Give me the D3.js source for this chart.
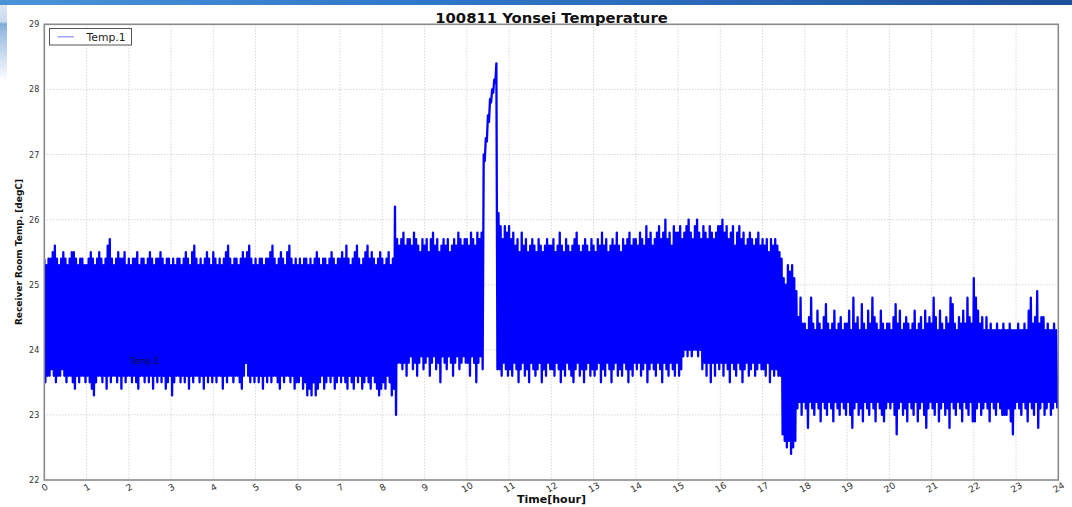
<!DOCTYPE html>
<html>
<head>
<meta charset="utf-8">
<script src="https://cdn.jsdelivr.net/npm/d3@7"></script>
<style>
  html, body { margin: 0; padding: 0; background: #fff; }
  svg { display: block; font-family: "DejaVu Sans", sans-serif; }
</style>
</head>
<body>
<svg id="chart" width="1072" height="507"></svg>
<script>
// Hours between successive envelope readings of the temperature log
const sampleStep = 0.05;

// Upper envelope of Temp.1 [degC], one row per hour (20 readings each)
const tempHigh = [
  25.4,25.3,25.4,25.4,25.5, 25.6,25.4,25.3,25.4,25.5, 25.4,25.3,25.4,25.5,25.5, 25.4,25.3,25.4,25.4,25.3, // 0 h
  25.3,25.4,25.5,25.4,25.3, 25.4,25.5,25.4,25.3,25.4, 25.6,25.7,25.4,25.3,25.4, 25.5,25.4,25.4,25.5,25.3, // 1 h
  25.4,25.3,25.4,25.4,25.5, 25.3,25.4,25.4,25.3,25.4, 25.5,25.4,25.3,25.4,25.4, 25.5,25.4,25.3,25.4,25.4, // 2 h
  25.3,25.4,25.3,25.4,25.4, 25.3,25.4,25.5,25.4,25.3, 25.5,25.6,25.4,25.3,25.4, 25.3,25.4,25.5,25.4,25.3, // 3 h
  25.5,25.4,25.3,25.4,25.3, 25.4,25.5,25.6,25.4,25.3, 25.4,25.4,25.3,25.4,25.5, 25.4,25.5,25.6,25.4,25.3, // 4 h
  25.4,25.3,25.4,25.4,25.3, 25.4,25.4,25.5,25.6,25.4, 25.3,25.4,25.5,25.4,25.3, 25.5,25.6,25.4,25.3,25.4, // 5 h
  25.3,25.4,25.3,25.4,25.4, 25.3,25.4,25.3,25.4,25.5, 25.4,25.3,25.4,25.4,25.3, 25.4,25.5,25.4,25.3,25.4, // 6 h
  25.4,25.5,25.4,25.6,25.4, 25.3,25.4,25.5,25.6,25.4, 25.3,25.4,25.5,25.6,25.4, 25.5,25.4,25.3,25.4,25.5, // 7 h
  25.4,25.3,25.4,25.5,25.3, 25.4,26.2,25.7,25.6,25.7, 25.8,25.6,25.7,25.7,25.6, 25.8,25.7,25.6,25.5,25.7, // 8 h
  25.6,25.7,25.5,25.7,25.8, 25.6,25.7,25.5,25.6,25.7, 25.6,25.7,25.5,25.6,25.7, 25.6,25.8,25.7,25.6,25.7, // 9 h
  25.7,25.6,25.8,25.7,25.6, 25.8,25.7,25.8,27.0,27.25, 27.6,27.85,28.0,28.15,28.4, 26.1,25.9,25.7,25.9,25.8, // 10 h
  25.9,25.7,25.8,25.6,25.7, 25.5,25.8,25.6,25.7,25.5, 25.6,25.7,25.6,25.5,25.7, 25.6,25.5,25.6,25.7,25.6, // 11 h
  25.6,25.7,25.5,25.6,25.8, 25.6,25.5,25.7,25.6,25.5, 25.6,25.7,25.8,25.6,25.5, 25.6,25.7,25.6,25.5,25.7, // 12 h
  25.6,25.5,25.7,25.6,25.8, 25.6,25.7,25.5,25.6,25.7, 25.6,25.8,25.6,25.5,25.7, 25.6,25.7,25.8,25.6,25.7, // 13 h
  25.7,25.6,25.8,25.7,25.6, 25.9,25.7,25.8,25.6,25.7, 25.8,25.9,25.7,25.8,26.0, 25.7,25.8,25.6,25.9,25.8, // 14 h
  25.8,25.9,25.7,25.8,25.9, 26.0,25.8,25.7,25.9,26.0, 25.8,25.7,25.9,25.8,25.7, 25.9,25.8,25.7,25.8,25.9, // 15 h
  25.9,26.0,25.8,25.9,25.7, 25.8,25.9,25.6,25.8,25.9, 25.7,25.8,25.6,25.7,25.8, 25.7,25.6,25.7,25.8,25.6, // 16 h
  25.7,25.6,25.7,25.5,25.7, 25.6,25.7,25.6,25.5,25.4, 25.1,25.0,25.3,25.2,25.3, 25.1,24.9,24.5,24.8,24.4, // 17 h
  24.4,24.3,24.5,24.8,24.4, 24.3,24.6,24.4,24.3,24.5, 24.7,24.4,24.3,24.4,24.6, 24.3,24.4,24.5,24.3,24.4, // 18 h
  24.4,24.6,24.3,24.8,24.4, 24.5,24.3,24.7,24.4,24.3, 24.6,24.4,24.8,24.5,24.4, 24.3,24.6,24.4,24.3,24.4, // 19 h
  24.4,24.3,24.5,24.7,24.4, 24.6,24.3,24.4,24.5,24.4, 24.3,24.4,24.6,24.3,24.4, 24.5,24.3,24.6,24.4,24.5, // 20 h
  24.4,24.8,24.5,24.3,24.6, 24.4,24.3,24.5,24.4,24.8, 24.7,24.4,24.3,24.5,24.4, 24.6,24.4,24.8,24.5,24.4, // 21 h
  25.1,24.8,24.6,24.4,24.5, 24.3,24.5,24.3,24.4,24.3, 24.3,24.4,24.3,24.3,24.4, 24.3,24.3,24.4,24.3,24.3, // 22 h
  24.3,24.4,24.3,24.3,24.4, 24.3,24.6,24.8,24.4,24.5, 24.9,24.4,24.5,24.5,24.3, 24.4,24.3,24.3,24.4,24.3  // 23 h
];

// Lower envelope of Temp.1 [degC], read half a step after each upper reading
const tempLow = [
  23.5,23.6,23.6,23.7,23.6, 23.5,23.6,23.6,23.7,23.6, 23.5,23.6,23.6,23.5,23.4, 23.6,23.5,23.6,23.6,23.5, // 0 h
  23.6,23.5,23.4,23.3,23.5, 23.6,23.6,23.5,23.6,23.4, 23.6,23.5,23.6,23.6,23.5, 23.6,23.4,23.6,23.5,23.6, // 1 h
  23.6,23.5,23.6,23.5,23.4, 23.6,23.6,23.5,23.6,23.5, 23.6,23.4,23.6,23.5,23.6, 23.5,23.6,23.4,23.5,23.6, // 2 h
  23.3,23.5,23.6,23.6,23.5, 23.6,23.5,23.6,23.4,23.6, 23.5,23.6,23.6,23.5,23.6, 23.4,23.6,23.5,23.6,23.5, // 3 h
  23.6,23.5,23.6,23.6,23.4, 23.6,23.5,23.6,23.6,23.5, 23.6,23.6,23.5,23.4,23.6, 23.8,23.6,23.5,23.6,23.5, // 4 h
  23.6,23.5,23.6,23.4,23.6, 23.5,23.6,23.5,23.6,23.6, 23.5,23.4,23.6,23.5,23.6, 23.6,23.5,23.6,23.4,23.5, // 5 h
  23.5,23.6,23.4,23.5,23.3, 23.4,23.3,23.5,23.3,23.4, 23.5,23.6,23.4,23.5,23.6, 23.5,23.6,23.4,23.5,23.6, // 6 h
  23.5,23.6,23.5,23.4,23.6, 23.5,23.4,23.6,23.5,23.6, 23.4,23.5,23.6,23.5,23.4, 23.6,23.5,23.4,23.3,23.4, // 7 h
  23.5,23.4,23.6,23.5,23.3, 23.4,23.0,23.8,23.8,23.7, 23.8,23.6,23.8,23.9,23.7, 23.8,23.6,23.8,23.9,23.7, // 8 h
  23.8,23.9,23.6,23.8,23.9, 23.7,23.8,23.5,23.9,23.8, 23.7,23.9,23.8,23.6,23.8, 23.9,23.7,23.8,23.9,23.8, // 9 h
  23.8,23.6,23.9,23.8,23.5, 23.8,23.9,23.7,26.9,27.2, 27.5,27.8,27.95,28.1,23.7, 23.7,23.6,23.8,23.7,23.6, // 10 h
  23.7,23.6,23.8,23.7,23.5, 23.7,23.8,23.6,23.7,23.5, 23.8,23.7,23.6,23.7,23.8, 23.5,23.7,23.6,23.8,23.7, // 11 h
  23.7,23.6,23.8,23.7,23.5, 23.7,23.6,23.8,23.7,23.6, 23.5,23.7,23.8,23.6,23.7, 23.5,23.7,23.8,23.6,23.7, // 12 h
  23.6,23.7,23.8,23.5,23.7, 23.6,23.8,23.7,23.5,23.7, 23.8,23.6,23.7,23.6,23.8, 23.7,23.5,23.7,23.6,23.8, // 13 h
  23.7,23.8,23.6,23.7,23.8, 23.5,23.7,23.8,23.7,23.6, 23.8,23.7,23.5,23.8,23.7, 23.6,23.8,23.7,23.6,23.8, // 14 h
  23.6,23.7,23.9,24.0,23.9, 24.0,23.9,24.0,24.0,23.9, 24.0,23.7,23.8,23.6,23.8, 23.5,23.8,23.6,23.8,23.7, // 15 h
  23.8,23.6,23.8,23.7,23.5, 23.8,23.7,23.6,23.8,23.7, 23.5,23.7,23.8,23.6,23.7, 23.8,23.6,23.7,23.8,23.7, // 16 h
  23.7,23.6,23.8,23.5,23.7, 23.6,23.7,23.6,23.6,22.7, 22.6,22.5,22.6,22.4,22.5, 22.6,23.1,23.2,23.0,23.2, // 17 h
  23.1,22.8,23.2,23.1,23.0, 23.2,23.1,22.9,23.2,23.1, 23.0,23.2,23.1,22.9,23.2, 23.1,23.0,23.2,23.1,23.0, // 18 h
  23.2,23.0,22.8,23.1,23.2, 23.0,23.1,22.9,23.2,23.1, 23.0,23.2,23.1,22.9,23.2, 23.1,23.0,22.9,23.1,23.2, // 19 h
  23.1,23.2,23.0,22.7,23.1, 23.2,23.0,23.1,22.9,23.2, 23.1,23.0,23.2,22.9,23.1, 23.2,23.0,22.8,23.1,23.2, // 20 h
  23.1,23.0,23.2,22.9,23.1, 23.2,23.0,23.1,22.8,23.2, 23.1,23.0,23.2,23.1,22.9, 23.2,23.1,23.0,23.2,22.9, // 21 h
  22.9,23.1,23.2,23.0,23.1, 23.2,23.1,22.9,23.2,23.1, 23.0,23.2,23.1,23.0,23.0, 23.0,23.1,22.9,22.7,23.1, // 22 h
  23.2,23.1,23.0,23.2,23.1, 22.9,23.2,23.1,23.0,23.2, 22.8,23.1,23.2,23.0,23.1, 23.2,23.0,23.1,23.2,23.1  // 23 h
];

const hourTicks = [0,1,2,3,4,5,6,7,8,9,10,11,12,13,14,15,16,17,18,19,20,21,22,23,24];
const tempTicks = [22,23,24,25,26,27,28,29];
const seriesName = "Temp.1";
const chartTitle = "100811 Yonsei Temperature";
const xLabel = "Time[hour]";
const yLabel = "Receiver Room Temp. [degC]";

const svg = d3.select("#chart");
const W = 1072, H = 507;
const plot = { left: 44.3, right: 1058.3, top: 24.3, bottom: 480 };

// Slide header band and left-edge decoration
const defs = svg.append("defs");
const hdr = defs.append("linearGradient").attr("id", "hdr").attr("x1", 0).attr("x2", 1).attr("y1", 0).attr("y2", 0);
hdr.append("stop").attr("offset", 0).attr("stop-color", "#4b93d8");
hdr.append("stop").attr("offset", 0.4).attr("stop-color", "#2f77c8");
hdr.append("stop").attr("offset", 0.7).attr("stop-color", "#2a66b4");
hdr.append("stop").attr("offset", 1).attr("stop-color", "#1d4f9a");
const side = defs.append("linearGradient").attr("id", "side").attr("x1", 0).attr("x2", 0).attr("y1", 0).attr("y2", 1);
side.append("stop").attr("offset", 0).attr("stop-color", "#dce7f3");
side.append("stop").attr("offset", 0.22).attr("stop-color", "#c9daee");
side.append("stop").attr("offset", 0.25).attr("stop-color", "#7fa9da");
side.append("stop").attr("offset", 0.36).attr("stop-color", "#9dbde3");
side.append("stop").attr("offset", 1).attr("stop-color", "#ffffff");

svg.append("rect").attr("x", 0).attr("y", 0).attr("width", W).attr("height", H).attr("fill", "#fff");
svg.append("rect").attr("x", 0).attr("y", 0).attr("width", W).attr("height", 5).attr("fill", "url(#hdr)");
svg.append("rect").attr("x", 0).attr("y", 5).attr("width", 7).attr("height", 76).attr("fill", "url(#side)");

const x = d3.scaleLinear().domain([0, 24]).range([plot.left, plot.right]);
const y = d3.scaleLinear().domain([22, 29]).range([plot.bottom, plot.top]);

// Dotted grid
const grid = svg.append("g").attr("stroke", "#b8b8b8").attr("stroke-width", 0.8).attr("stroke-dasharray", "1,2");
grid.selectAll("line.v").data(hourTicks.slice(1, -1)).join("line")
  .attr("x1", d => x(d)).attr("x2", d => x(d)).attr("y1", plot.top).attr("y2", plot.bottom);
grid.selectAll("line.h").data(tempTicks.slice(1, -1)).join("line")
  .attr("y1", d => y(d)).attr("y2", d => y(d)).attr("x1", plot.left).attr("x2", plot.right);

// Temperature trace: zigzag through the upper and lower envelope readings
const n = Math.min(tempHigh.length, tempLow.length);
const pts = [];
for (let i = 0; i < n; i++) {
  pts.push([i * sampleStep, tempHigh[i]]);
  pts.push([i * sampleStep + sampleStep / 2, tempLow[i]]);
}
svg.append("clipPath").attr("id", "clip").append("rect")
  .attr("x", plot.left).attr("y", plot.top).attr("width", plot.right - plot.left).attr("height", plot.bottom - plot.top);
svg.append("path")
  .datum(pts)
  .attr("clip-path", "url(#clip)")
  .attr("fill", "none")
  .attr("stroke", "#0000ff")
  .attr("stroke-width", 2.3)
  .attr("stroke-linejoin", "round")
  .attr("stroke-linecap", "butt")
  .attr("d", d3.line().x(d => x(d[0])).y(d => y(d[1])));

// Small in-plot series tag
svg.append("text").attr("x", x(2.03)).attr("y", y(23.78))
  .attr("font-size", 8).attr("fill", "#111").attr("opacity", 0.85).text(seriesName);

// Frame
svg.append("rect")
  .attr("x", plot.left).attr("y", plot.top)
  .attr("width", plot.right - plot.left).attr("height", plot.bottom - plot.top)
  .attr("fill", "none").attr("stroke", "#8a8a8a").attr("stroke-width", 1.6);

// Y axis (labels only, classic style)
const yAxis = d3.axisLeft(y).tickValues(tempTicks).tickSize(0).tickPadding(5).tickFormat(d3.format("d"));
const gy = svg.append("g").attr("transform", `translate(${plot.left},0)`).call(yAxis);
gy.select(".domain").remove();
gy.selectAll("text").attr("font-size", 8).attr("fill", "#333").attr("font-family", "DejaVu Sans");

// X axis with slanted labels
const xAxis = d3.axisBottom(x).tickValues(hourTicks).tickSize(0).tickFormat(d3.format("d"));
const gx = svg.append("g").attr("transform", `translate(0,${plot.bottom})`).call(xAxis);
gx.select(".domain").remove();
gx.selectAll("text")
  .attr("font-size", 9).attr("fill", "#333").attr("font-family", "DejaVu Sans")
  .attr("y", 0).attr("dy", null)
  .attr("text-anchor", "middle").attr("dominant-baseline", "central")
  .attr("transform", "translate(0,7.5) rotate(-30)");

// Titles
svg.append("text").attr("x", 551.5).attr("y", 22.5).attr("text-anchor", "middle")
  .attr("font-size", 14.8).attr("font-weight", "bold").attr("fill", "#111").text(chartTitle);
svg.append("text").attr("x", 551.5).attr("y", 503).attr("text-anchor", "middle")
  .attr("font-size", 11).attr("font-weight", "bold").attr("fill", "#111").text(xLabel);
svg.append("text").attr("transform", "translate(22,252) rotate(-90)").attr("text-anchor", "middle")
  .attr("font-size", 9).attr("font-weight", "bold").attr("fill", "#111").text(yLabel);

// Legend
const lg = svg.append("g");
lg.append("rect").attr("x", 49.5).attr("y", 28.5).attr("width", 82).attr("height", 16.5)
  .attr("fill", "#fff").attr("stroke", "#555").attr("stroke-width", 1);
lg.append("line").attr("x1", 57.5).attr("x2", 74).attr("y1", 36.8).attr("y2", 36.8)
  .attr("stroke", "#0000ff").attr("stroke-opacity", 0.45).attr("stroke-width", 1.2);
lg.append("text").attr("x", 86.5).attr("y", 40.8).attr("font-size", 10.8).attr("fill", "#222").text(seriesName);
</script>
</body>
</html>
